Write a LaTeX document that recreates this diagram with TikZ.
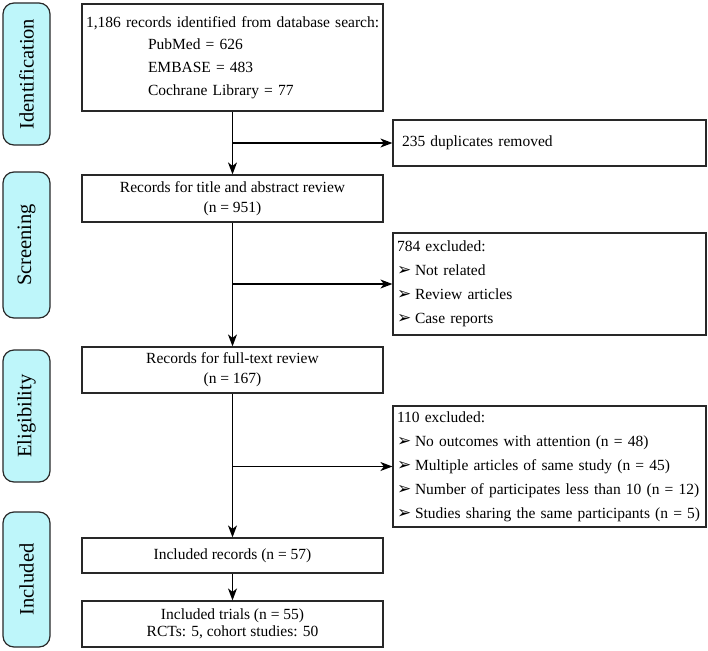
\documentclass[tikz,border=0pt]{standalone}
\usepackage{fontspec}
\setmainfont{Liberation Serif}
\newfontfamily\dvfont{DejaVu Sans}
\usetikzlibrary{arrows.meta}
\definecolor{phasefill}{RGB}{190,246,250}
\definecolor{boxline}{RGB}{40,40,40}
\newcommand{\bul}{\makebox[18pt][l]{\raisebox{0pt}{\dvfont\fontsize{17}{17}\selectfont\char"27A2}}}
\newcommand{\oneline}[1]{\mbox{#1}}
\tikzset{
  x=1pt, y=-1pt,
  phase/.style={draw=boxline, line width=1.2pt, fill=phasefill, rounded corners=11pt,
    rotate=90, minimum height=47pt, inner sep=0pt, font=\fontsize{20.5}{24}\selectfont},
  mainbox/.style={draw=boxline, line width=1.2pt, minimum width=301pt, inner sep=0pt,
    align=center, font=\fontsize{15.5}{20}\selectfont},
  sidebox/.style={draw=boxline, line width=1.2pt, minimum width=313pt, inner ysep=0pt,
    inner xsep=4pt, text width=305pt, align=left, font=\fontsize{15.5}{24}\selectfont},
  arr/.style={line width=1.2pt, draw=black, -{Stealth[length=12pt,width=9pt,inset=3.5pt]}}
}
\begin{document}
\begin{tikzpicture}
\useasboundingbox (0,0) rectangle (708,650);
% phase labels
\node[phase, minimum width=142pt] (pid) at (26.5,74) {Identification};
\node[phase, minimum width=146pt] (psc) at (26.5,245) {Screening};
\node[phase, minimum width=132pt] (pel) at (26.5,416) {Eligibility};
\node[phase, minimum width=135pt] (pin) at (26.5,579.5) {Included};
% main boxes
\node[mainbox, minimum height=107pt, inner xsep=4pt, text width=293pt, align=left,
  font=\fontsize{15.5}{22.8}\selectfont] (top) at (232.5,57.5)
  {\oneline{1,186 records identified from database search:}\\
   \hspace*{62pt}PubMed = 626\\
   \hspace*{62pt}EMBASE = 483\\
   \hspace*{62pt}Cochrane Library = 77};
\node[mainbox, minimum height=47pt] (screen) at (232.5,198.5)
  {Records for title and abstract review\\(n = 951)};
\node[mainbox, minimum height=46pt] (full) at (232.5,370)
  {Records for full-text review\\(n = 167)};
\node[mainbox, minimum height=35pt] (incl) at (232.5,555.5)
  {Included records (n = 57)};
\node[mainbox, minimum height=46pt, font=\fontsize{15.5}{16.5}\selectfont] (trials) at (232.5,624)
  {Included trials (n = 55)\\RCTs: 5, cohort studies: 50};
% side boxes
\node[sidebox, minimum height=46pt] (dup) at (549.5,143)
  {\hspace*{5pt}235 duplicates removed};
\node[sidebox, minimum height=102pt] (exa) at (549.5,284)
  {784 excluded:\\
   \oneline{\bul Not related}\\
   \oneline{\bul Review articles}\\
   \oneline{\bul Case reports}};
\node[sidebox, minimum height=121pt] (exb) at (549.5,466.5)
  {110 excluded:\\
   \oneline{\bul No outcomes with attention (n = 48)}\\
   \oneline{\bul Multiple articles of same study (n = 45)}\\
   \oneline{\bul Number of participates less than 10 (n = 12)}\\
   \oneline{\bul Studies sharing the same participants (n = 5)}};
% connectors
\draw[arr] (top.south) -- (screen.north);
\draw[arr] (top.south |- dup.west) -- (dup.west);
\draw[arr] (screen.south) -- (full.north);
\draw[arr] (screen.south |- exa.west) -- (exa.west);
\draw[arr] (full.south) -- (incl.north);
\draw[arr] (full.south |- exb.west) -- (exb.west);
\draw[arr] (incl.south) -- (trials.north);
\end{tikzpicture}
\end{document}
